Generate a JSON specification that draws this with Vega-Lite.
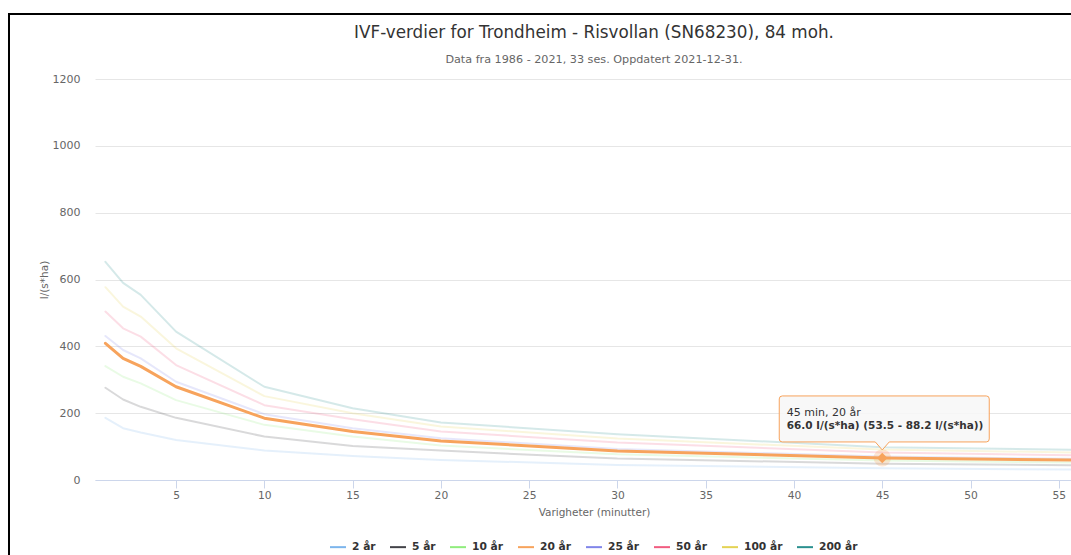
{
  "$schema": "https://vega.github.io/schema/vega-lite/v6.json",
  "width": 976,
  "height": 401,
  "autosize": {"type": "none"},
  "padding": {"left": 95, "top": 79, "right": 0, "bottom": 75},
  "background": "white",
  "config": {"font": "DejaVu Sans", "view": {"stroke": null}},
  "title": {
    "text": "IVF-verdier for Trondheim - Risvollan (SN68230), 84 moh.",
    "subtitle": "Data fra 1986 - 2021, 33 ses. Oppdatert 2021-12-31.",
    "fontSize": 16.8,
    "fontWeight": "normal",
    "color": "#333333",
    "subtitleFontSize": 11.2,
    "subtitleColor": "#666666",
    "subtitlePadding": 12,
    "offset": -52,
    "dx": 11,
    "anchor": "middle"
  },
  "datasets": {
    "ivf": [
      {"periode": "2 år", "minutter": 1, "verdi": 186}, {"periode": "2 år", "minutter": 2, "verdi": 155}, {"periode": "2 år", "minutter": 3, "verdi": 142}, {"periode": "2 år", "minutter": 5, "verdi": 120}, {"periode": "2 år", "minutter": 10, "verdi": 88}, {"periode": "2 år", "minutter": 15, "verdi": 72}, {"periode": "2 år", "minutter": 20, "verdi": 60}, {"periode": "2 år", "minutter": 30, "verdi": 45}, {"periode": "2 år", "minutter": 45, "verdi": 35}, {"periode": "2 år", "minutter": 60, "verdi": 30},
      {"periode": "5 år", "minutter": 1, "verdi": 276}, {"periode": "5 år", "minutter": 2, "verdi": 241}, {"periode": "5 år", "minutter": 3, "verdi": 219}, {"periode": "5 år", "minutter": 5, "verdi": 186}, {"periode": "5 år", "minutter": 10, "verdi": 130}, {"periode": "5 år", "minutter": 15, "verdi": 102}, {"periode": "5 år", "minutter": 20, "verdi": 88}, {"periode": "5 år", "minutter": 30, "verdi": 64}, {"periode": "5 år", "minutter": 45, "verdi": 49}, {"periode": "5 år", "minutter": 60, "verdi": 42},
      {"periode": "10 år", "minutter": 1, "verdi": 341}, {"periode": "10 år", "minutter": 2, "verdi": 309}, {"periode": "10 år", "minutter": 3, "verdi": 289}, {"periode": "10 år", "minutter": 5, "verdi": 239}, {"periode": "10 år", "minutter": 10, "verdi": 165}, {"periode": "10 år", "minutter": 15, "verdi": 130}, {"periode": "10 år", "minutter": 20, "verdi": 103}, {"periode": "10 år", "minutter": 30, "verdi": 77}, {"periode": "10 år", "minutter": 45, "verdi": 58}, {"periode": "10 år", "minutter": 60, "verdi": 50},
      {"periode": "20 år", "minutter": 1, "verdi": 409}, {"periode": "20 år", "minutter": 2, "verdi": 364}, {"periode": "20 år", "minutter": 3, "verdi": 340}, {"periode": "20 år", "minutter": 5, "verdi": 279}, {"periode": "20 år", "minutter": 10, "verdi": 185}, {"periode": "20 år", "minutter": 15, "verdi": 145}, {"periode": "20 år", "minutter": 20, "verdi": 117}, {"periode": "20 år", "minutter": 30, "verdi": 87}, {"periode": "20 år", "minutter": 45, "verdi": 66}, {"periode": "20 år", "minutter": 60, "verdi": 57},
      {"periode": "25 år", "minutter": 1, "verdi": 431}, {"periode": "25 år", "minutter": 2, "verdi": 389}, {"periode": "25 år", "minutter": 3, "verdi": 364}, {"periode": "25 år", "minutter": 5, "verdi": 294}, {"periode": "25 år", "minutter": 10, "verdi": 197}, {"periode": "25 år", "minutter": 15, "verdi": 155}, {"periode": "25 år", "minutter": 20, "verdi": 125}, {"periode": "25 år", "minutter": 30, "verdi": 93}, {"periode": "25 år", "minutter": 45, "verdi": 70}, {"periode": "25 år", "minutter": 60, "verdi": 61},
      {"periode": "50 år", "minutter": 1, "verdi": 504}, {"periode": "50 år", "minutter": 2, "verdi": 454}, {"periode": "50 år", "minutter": 3, "verdi": 429}, {"periode": "50 år", "minutter": 5, "verdi": 344}, {"periode": "50 år", "minutter": 10, "verdi": 224}, {"periode": "50 år", "minutter": 15, "verdi": 182}, {"periode": "50 år", "minutter": 20, "verdi": 145}, {"periode": "50 år", "minutter": 30, "verdi": 112}, {"periode": "50 år", "minutter": 45, "verdi": 82}, {"periode": "50 år", "minutter": 60, "verdi": 71},
      {"periode": "100 år", "minutter": 1, "verdi": 577}, {"periode": "100 år", "minutter": 2, "verdi": 519}, {"periode": "100 år", "minutter": 3, "verdi": 489}, {"periode": "100 år", "minutter": 5, "verdi": 394}, {"periode": "100 år", "minutter": 10, "verdi": 251}, {"periode": "100 år", "minutter": 15, "verdi": 200}, {"periode": "100 år", "minutter": 20, "verdi": 160}, {"periode": "100 år", "minutter": 30, "verdi": 124}, {"periode": "100 år", "minutter": 45, "verdi": 91}, {"periode": "100 år", "minutter": 60, "verdi": 79},
      {"periode": "200 år", "minutter": 1, "verdi": 653}, {"periode": "200 år", "minutter": 2, "verdi": 590}, {"periode": "200 år", "minutter": 3, "verdi": 554}, {"periode": "200 år", "minutter": 5, "verdi": 444}, {"periode": "200 år", "minutter": 10, "verdi": 279}, {"periode": "200 år", "minutter": 15, "verdi": 215}, {"periode": "200 år", "minutter": 20, "verdi": 172}, {"periode": "200 år", "minutter": 30, "verdi": 137}, {"periode": "200 år", "minutter": 45, "verdi": 98}, {"periode": "200 år", "minutter": 60, "verdi": 88}
    ],
    "valgt": [
      {"periode": "20 år", "minutter": 45, "verdi": 66.0, "lav": 53.5, "hoy": 88.2, "etikett": "45 min, 20 år", "verditekst": "66.0 l/(s*ha) (53.5 - 88.2 l/(s*ha))"}
    ]
  },
  "layer": [
    {
      "data": {"name": "ivf"},
      "transform": [{"filter": "datum.periode !== '20 år'"}],
      "mark": {"type": "line", "clip": true, "strokeWidth": 2, "opacity": 0.2, "strokeJoin": "round", "strokeCap": "round"},
      "encoding": {
        "x": {
          "field": "minutter", "type": "quantitative",
          "scale": {"domain": [0.41, 55.69], "nice": false, "zero": false},
          "axis": {
            "values": [5, 10, 15, 20, 25, 30, 35, 40, 45, 50, 55],
            "grid": false,
            "domainColor": "#ccd6eb",
            "tickColor": "#ccd6eb",
            "tickSize": 8,
            "labelPadding": 2,
            "labelColor": "#666666",
            "labelFontSize": 10.7,
            "title": "Varigheter (minutter)",
            "titleColor": "#666666",
            "titleFontSize": 10.5,
            "titleFontWeight": "normal",
            "titlePadding": 8,
            "titleX": 499
          }
        },
        "y": {
          "field": "verdi", "type": "quantitative",
          "scale": {"domain": [0, 1200], "nice": false},
          "axis": {
            "values": [0, 200, 400, 600, 800, 1000, 1200],
            "format": "d",
            "grid": true,
            "gridColor": "#e6e6e6",
            "domain": false,
            "ticks": false,
            "tickSize": 0,
            "labelPadding": 15,
            "labelColor": "#666666",
            "labelFontSize": 11,
            "title": "l/(s*ha)",
            "titleColor": "#666666",
            "titleFontSize": 10.5,
            "titleFontWeight": "normal",
            "titlePadding": 3
          }
        },
        "color": {
          "field": "periode", "type": "nominal",
          "scale": {
            "domain": ["2 år", "5 år", "10 år", "20 år", "25 år", "50 år", "100 år", "200 år"],
            "range": ["#7cb5ec", "#434348", "#90ed7d", "#f7a35c", "#8085e9", "#f15c80", "#e4d354", "#2b908f"]
          },
          "legend": {
            "orient": "none",
            "direction": "horizontal",
            "legendX": 234,
            "legendY": 459,
            "title": null,
            "padding": 0,
            "symbolType": "stroke",
            "symbolSize": 256,
            "symbolStrokeWidth": 2,
            "symbolOpacity": 1,
            "labelFontSize": 10.7,
            "labelFontWeight": "bold",
            "labelColor": "#333333",
            "labelOffset": 5,
            "columnPadding": 10
          }
        }
      }
    },
    {
      "data": {"name": "ivf"},
      "transform": [{"filter": "datum.periode === '20 år'"}],
      "mark": {"type": "line", "clip": true, "strokeWidth": 3, "opacity": 1, "strokeJoin": "round", "strokeCap": "round"},
      "encoding": {
        "x": {"field": "minutter", "type": "quantitative"},
        "y": {"field": "verdi", "type": "quantitative"},
        "color": {"field": "periode", "type": "nominal"}
      }
    },
    {
      "data": {"name": "valgt"},
      "mark": {"type": "point", "shape": "circle", "filled": true, "size": 300, "color": "#f7a35c", "opacity": 0.25},
      "encoding": {
        "x": {"field": "minutter", "type": "quantitative"},
        "y": {"field": "verdi", "type": "quantitative"}
      }
    },
    {
      "data": {"name": "valgt"},
      "mark": {"type": "point", "shape": "diamond", "filled": true, "size": 110, "color": "#f7a35c", "opacity": 1},
      "encoding": {
        "x": {"field": "minutter", "type": "quantitative"},
        "y": {"field": "verdi", "type": "quantitative"}
      }
    },
    {
      "data": {"name": "valgt"},
      "mark": {
        "type": "point",
        "shape": "M -0.9091 -0.5636 H 0.9455 Q 0.9727 -0.5636 0.9727 -0.5364 V -0.1727 Q 0.9727 -0.1455 0.9455 -0.1455 H 0.0636 L 0 -0.0727 L -0.0636 -0.1455 H -0.9091 Q -0.9364 -0.1455 -0.9364 -0.1727 V -0.5364 Q -0.9364 -0.5636 -0.9091 -0.5636 Z",
        "size": 48400,
        "filled": true,
        "fill": "#f7f7f7",
        "fillOpacity": 0.85,
        "stroke": "#f7a35c",
        "strokeWidth": 1,
        "strokeOpacity": 1,
        "opacity": 1
      },
      "encoding": {
        "x": {"field": "minutter", "type": "quantitative"},
        "y": {"field": "verdi", "type": "quantitative"}
      }
    },
    {
      "data": {"name": "valgt"},
      "mark": {"type": "text", "align": "left", "baseline": "alphabetic", "dx": -95.5, "dy": -42, "fontSize": 11, "color": "#333333"},
      "encoding": {
        "x": {"field": "minutter", "type": "quantitative"},
        "y": {"field": "verdi", "type": "quantitative"},
        "text": {"field": "etikett"}
      }
    },
    {
      "data": {"name": "valgt"},
      "mark": {"type": "text", "align": "left", "baseline": "alphabetic", "dx": -95.5, "dy": -29, "fontSize": 10.5, "fontWeight": "bold", "color": "#333333"},
      "encoding": {
        "x": {"field": "minutter", "type": "quantitative"},
        "y": {"field": "verdi", "type": "quantitative"},
        "text": {"field": "verditekst"}
      }
    },
    {
      "data": {"values": [{}]},
      "mark": {"type": "rect", "filled": false, "stroke": "black", "strokeWidth": 2},
      "encoding": {
        "x": {"datum": -4.461, "type": "quantitative"},
        "x2": {"datum": 70},
        "y": {"datum": 1394.5, "type": "quantitative"},
        "y2": {"datum": -300}
      }
    }
  ]
}
